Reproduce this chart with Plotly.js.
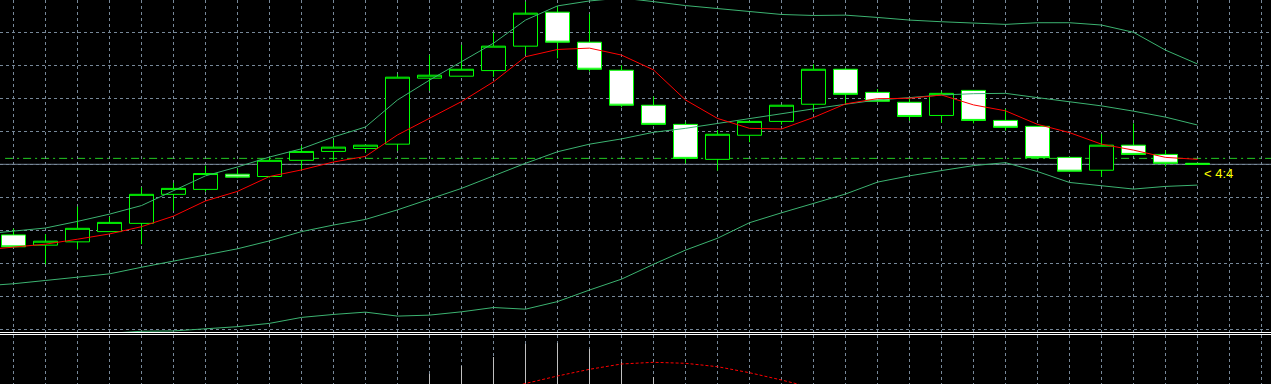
<!DOCTYPE html>
<html><head><meta charset="utf-8">
<script src="https://cdn.plot.ly/plotly-3.0.1.min.js"></script>
<style>html,body{margin:0;padding:0;background:#000;overflow:hidden}#chart{width:1271px;height:384px}</style>
</head><body><div id="chart"></div>
<script>
// bar numbers (one per candle) and indicator points (one extra bar on the left, off screen)
const bars = [0,1,2,3,4,5,6,7,8,9,10,11,12,13,14,15,16,17,18,19,20,21,22,23,24,25,26,27,28,29,30,31,32,33,34,35,36,37];
const lineBars = [-1,0,1,2,3,4,5,6,7,8,9,10,11,12,13,14,15,16,17,18,19,20,21,22,23,24,25,26,27,28,29,30,31,32,33,34,35,36,37];

const open  = [1.08286,1.08255,1.08265,1.08296,1.08321,1.08409,1.08424,1.08470,1.08463,1.08512,1.08539,1.08548,1.08561,1.08761,1.08767,1.08784,1.08858,1.08961,1.08870,1.08785,1.08679,1.08621,1.08515,1.08588,1.08630,1.08682,1.08788,1.08718,1.08688,1.08648,1.08724,1.08633,1.08615,1.08521,1.08482,1.08558,1.08530,1.08503];
const high  = [1.08305,1.08288,1.08372,1.08340,1.08430,1.08444,1.08496,1.08486,1.08520,1.08556,1.08574,1.08559,1.08773,1.08831,1.08862,1.08899,1.08993,1.08978,1.08955,1.08800,1.08705,1.08628,1.08604,1.08631,1.08680,1.08803,1.08792,1.08728,1.08699,1.08721,1.08725,1.08668,1.08616,1.08522,1.08592,1.08624,1.08543,1.08503];
const low   = [1.08248,1.08197,1.08242,1.08295,1.08258,1.08359,1.08417,1.08458,1.08460,1.08483,1.08511,1.08536,1.08541,1.08723,1.08766,1.08765,1.08833,1.08821,1.08781,1.08673,1.08620,1.08503,1.08481,1.08567,1.08620,1.08659,1.08682,1.08690,1.08632,1.08626,1.08624,1.08602,1.08517,1.08478,1.08462,1.08528,1.08493,1.08500];
const close = [1.08250,1.08267,1.08306,1.08324,1.08409,1.08427,1.08472,1.08461,1.08512,1.08539,1.08552,1.08558,1.08764,1.08770,1.08788,1.08858,1.08958,1.08870,1.08788,1.08679,1.08621,1.08518,1.08591,1.08630,1.08679,1.08788,1.08712,1.08691,1.08645,1.08715,1.08633,1.08612,1.08520,1.08479,1.08558,1.08530,1.08503,1.08500];

const bbUpper  = [1.08288,1.08298,1.08307,1.08327,1.08349,1.08375,1.08419,1.08465,1.08492,1.08522,1.08547,1.08583,1.08613,1.08695,1.08755,1.08811,1.08867,1.08937,1.08980,1.08995,1.09004,1.08993,1.08981,1.08972,1.08963,1.08954,1.08951,1.08952,1.08945,1.08937,1.08932,1.08929,1.08924,1.08929,1.08929,1.08922,1.08900,1.08846,1.08804];
const bbMiddle = [1.08131,1.08138,1.08148,1.08158,1.08168,1.08188,1.08206,1.08226,1.08244,1.08268,1.08296,1.08316,1.08333,1.08362,1.08395,1.08427,1.08465,1.08503,1.08538,1.08561,1.08577,1.08597,1.08609,1.08624,1.08639,1.08655,1.08668,1.08682,1.08695,1.08702,1.08710,1.08714,1.08715,1.08702,1.08690,1.08677,1.08661,1.08643,1.08619];
const bbLower  = [1.07974,1.07978,1.07984,1.07986,1.07988,1.07994,1.07995,1.08001,1.08008,1.08018,1.08036,1.08045,1.08052,1.08040,1.08043,1.08053,1.08066,1.08061,1.08084,1.08119,1.08152,1.08197,1.08240,1.08276,1.08323,1.08353,1.08382,1.08410,1.08446,1.08465,1.08481,1.08496,1.08505,1.08478,1.08445,1.08435,1.08425,1.08433,1.08437];
const maLine   = [1.08240,1.08250,1.08258,1.08273,1.08289,1.08311,1.08343,1.08389,1.08418,1.08463,1.08483,1.08507,1.08524,1.08589,1.08639,1.08690,1.08750,1.08826,1.08848,1.08852,1.08831,1.08786,1.08695,1.08639,1.08609,1.08607,1.08642,1.08683,1.08699,1.08700,1.08710,1.08680,1.08662,1.08621,1.08596,1.08561,1.08543,1.08521,1.08515];

// lower window (MACD): histogram and dotted signal line, only the part that is visible
const macdBars   = [13,14,15,16,17,18,19,20];
const macdHist   = [0.00026,0.00034,0.000433,0.000557,0.00057,0.00051,0.000377,0.000233];
const signalBars = [15,16,17,18,19,20,21,22,23,24,25];
const macdSignal = [0.00009,0.000165,0.00024,0.000307,0.00036,0.000377,0.000367,0.000333,0.000273,0.0002,0.00012];

const bidPrice = 1.08500;
const levelPrice = 1.08518;
const timerText = '< 4:4';

const GRID = '#778899';
const BAND = '#3CB371';

const traces = [
  {type:'candlestick', x:bars, open:open, high:high, low:low, close:close,
   xaxis:'x', yaxis:'y', whiskerwidth:0,
   increasing:{line:{color:'#00FF00', width:1}, fillcolor:'#000000'},
   decreasing:{line:{color:'#00FF00', width:1}, fillcolor:'#FFFFFF'},
   hoverinfo:'skip'},
  {type:'scatter', mode:'lines', x:lineBars, y:bbUpper, line:{color:BAND, width:1}, yaxis:'y', hoverinfo:'skip'},
  {type:'scatter', mode:'lines', x:lineBars, y:bbMiddle, line:{color:BAND, width:1}, yaxis:'y', hoverinfo:'skip'},
  {type:'scatter', mode:'lines', x:lineBars, y:bbLower, line:{color:BAND, width:1}, yaxis:'y', hoverinfo:'skip'},
  {type:'scatter', mode:'lines', x:lineBars, y:maLine, line:{color:'#FF0000', width:1}, yaxis:'y', hoverinfo:'skip'},
  {type:'bar', x:macdBars, y:macdHist, width:0.06, marker:{color:'#C0C0C0', line:{width:0}}, xaxis:'x', yaxis:'y2', hoverinfo:'skip'},
  {type:'scatter', mode:'lines', x:signalBars, y:macdSignal, line:{color:'#FF0000', width:1, dash:'3px,2px'}, xaxis:'x', yaxis:'y2', hoverinfo:'skip'}
];

const W = 1271, H = 384;
const pxX0 = 13.5, barPx = 32;
const mainBottomPx = 332, subTopPx = 335;
const yTopPrice = 1.0899788, yBottomPrice = 1.0799182;

const layout = {
  width:W, height:H,
  margin:{l:0,r:0,t:0,b:0,pad:0},
  paper_bgcolor:'#000000', plot_bgcolor:'#000000',
  showlegend:false, boxgap:0.25, boxgroupgap:0, bargap:0,
  xaxis:{range:[-pxX0/barPx, (W-pxX0)/barPx], tickmode:'linear', tick0:0, dtick:1,
         showticklabels:false, ticks:'', showgrid:true, gridcolor:GRID, griddash:'3px,3px', gridwidth:1,
         zeroline:false, showline:false, rangeslider:{visible:false}, fixedrange:true},
  yaxis:{domain:[(H-mainBottomPx)/H, 1], range:[yBottomPrice, yTopPrice], tickmode:'linear', tick0:1.08, dtick:0.001,
         showticklabels:false, ticks:'', showgrid:true, gridcolor:GRID, griddash:'3px,3px', gridwidth:1,
         zeroline:false, showline:false, fixedrange:true},
  yaxis2:{domain:[0, (H-subTopPx)/H], range:[0.00016, 0.00065], showgrid:false, showticklabels:false,
          ticks:'', zeroline:false, showline:false, fixedrange:true},
  shapes:[
    {type:'line', xref:'paper', yref:'y', x0:0, x1:1, y0:bidPrice, y1:bidPrice, layer:'between', line:{color:GRID, width:1}},
    {type:'line', xref:'paper', yref:'y', x0:0.004, x1:1, y0:levelPrice, y1:levelPrice, layer:'between', line:{color:'#22CC22', width:1, dash:'8px,4px,2px,4px'}},
    {type:'line', xref:'paper', yref:'paper', x0:0, x1:1, y0:(H-332.5)/H, y1:(H-332.5)/H, line:{color:'#FFFFFF', width:1}},
    {type:'line', xref:'paper', yref:'paper', x0:0, x1:1, y0:(H-334.5)/H, y1:(H-334.5)/H, line:{color:'#FFFFFF', width:1}}
  ],
  annotations:[
    {text:timerText, xref:'paper', yref:'y', x:1202/W, y:bidPrice, xanchor:'left', yanchor:'top', yshift:0,
     showarrow:false, font:{family:'Liberation Sans, Arial, sans-serif', size:13, color:'#FFFF00'}}
  ]
};

Plotly.newPlot('chart', traces, layout, {staticPlot:true, displayModeBar:false});
</script>
</body></html>
